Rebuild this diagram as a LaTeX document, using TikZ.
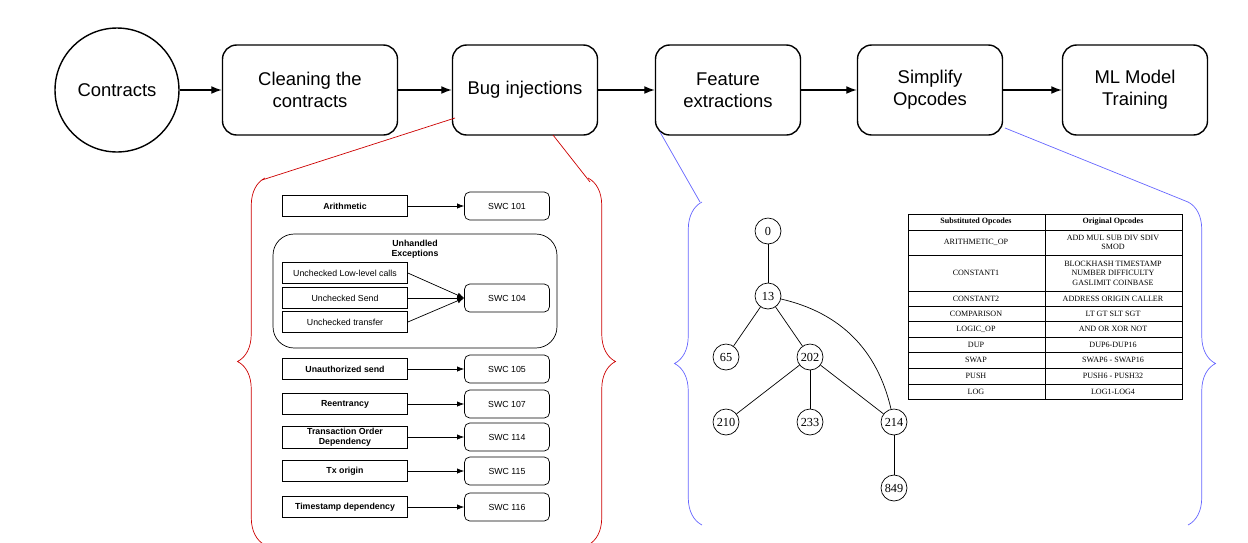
\documentclass[tikz,border=0pt]{standalone}
\usepackage{fontspec}
\setmainfont{Liberation Sans}
\newfontfamily\tabfont{Liberation Serif}
\usetikzlibrary{arrows.meta,decorations.pathreplacing}
\begin{document}
\begin{tikzpicture}[x=0.02cm,y=-0.02cm,
    stage/.style={draw,thick,rounded corners=8pt,minimum width=2.9cm,minimum height=1.8cm,align=center,font=\fontsize{10.5}{12.5}\selectfont},
    flow/.style={-{Latex[length=6pt]},thick},
    bug/.style={draw,minimum width=2.5cm,minimum height=0.42cm,inner sep=1pt,align=center,font=\fontsize{5}{6}\selectfont\bfseries},
    plain/.style={bug,font=\fontsize{5}{6}\selectfont},
    swc/.style={draw,rounded corners=3pt,minimum width=1.7cm,minimum height=0.56cm,font=\fontsize{5}{6}\selectfont},
    small/.style={-{Latex[length=4pt]}},
    tn/.style={draw,circle,minimum size=0.52cm,inner sep=0pt,font=\tabfont\fontsize{7}{8}\selectfont},
    cell/.style={font=\tabfont\fontsize{4.6}{5.4}\selectfont,align=center},
    brc/.style={decorate,decoration={brace,amplitude=0.55cm,aspect=0.5}}]
\useasboundingbox (0,0) rectangle (1248,542);
% top row
\node[draw,thick,circle,minimum size=2.48cm,font=\fontsize{10.5}{12.5}\selectfont] (contracts) at (117,90) {Contracts};
\node[stage,minimum width=3.5cm] (clean) at (310,90) {Cleaning the\\contracts};
\node[stage] (inject) at (525,90) {Bug injections};
\node[stage] (feature) at (728,90) {Feature\\extractions};
\node[stage] (simplify) at (930,90) {Simplify\\Opcodes};
\node[stage] (train) at (1135,90) {ML Model\\Training};
\draw[flow] (contracts) -- (clean);
\draw[flow] (clean) -- (inject);
\draw[flow] (inject) -- (feature);
\draw[flow] (feature) -- (simplify);
\draw[flow] (simplify) -- (train);
% zoom lines and braces
\draw[red!80!black,thin] (455,118) -- (262,180);
\draw[red!80!black,thin] (553,135) -- (590,182);
\draw[red!80!black,brc] (265,545) -- (265,178);
\draw[red!80!black,brc] (588,178) -- (588,545);
\draw[blue!60,thin] (660,132) -- (700,202);
\draw[blue!60,thin] (1005,128) -- (1188,202);
\draw[blue!60,brc] (702,525) -- (702,202);
\draw[blue!60,brc] (1188,202) -- (1188,525);
% bug classes
\node[draw,rounded corners=12pt,minimum width=5.68cm,minimum height=2.28cm] (group) at (415,291) {};
\node[font=\fontsize{5}{6}\selectfont\bfseries,align=center] (unhandled) at (415,249) {Unhandled\\Exceptions};
\node[bug] (arith) at (345,206) {Arithmetic};
\node[swc] (s101) at (507,206) {SWC 101};
\node[plain] (lowlevel) at (345,273) {Unchecked Low-level calls};
\node[plain] (send) at (345,298) {Unchecked Send};
\node[plain] (transfer) at (345,322) {Unchecked transfer};
\node[swc] (s104) at (507,298) {SWC 104};
\node[bug] (unauth) at (345,369) {Unauthorized send};
\node[swc] (s105) at (507,369) {SWC 105};
\node[bug] (reent) at (345,404) {Reentrancy};
\node[swc] (s107) at (507,404) {SWC 107};
\node[bug] (tod) at (345,437) {Transaction Order\\Dependency};
\node[swc] (s114) at (507,437) {SWC 114};
\node[bug] (txorigin) at (345,471) {Tx origin};
\node[swc] (s115) at (507,471) {SWC 115};
\node[bug] (timestamp) at (345,507) {Timestamp dependency};
\node[swc] (s116) at (507,507) {SWC 116};
\foreach \a/\b in {arith/s101,send/s104,unauth/s105,reent/s107,tod/s114,txorigin/s115,timestamp/s116}
    \draw[small] (\a) -- (\b);
\draw[small] (lowlevel.east) -- (s104.west);
\draw[small] (transfer.east) -- (s104.west);
% tree
\node[tn] (n0) at (768,231) {0};
\node[tn] (n13) at (768,296) {13};
\node[tn] (n65) at (726,357) {65};
\node[tn] (n202) at (810,357) {202};
\node[tn] (n210) at (726,422) {210};
\node[tn] (n233) at (810,422) {233};
\node[tn] (n214) at (894,422) {214};
\node[tn] (n849) at (894,488) {849};
\foreach \a/\b in {n0/n13,n13/n65,n13/n202,n202/n210,n202/n233,n202/n214,n214/n849}
    \draw (\a) -- (\b);
\draw (n13) to[bend left=32] (n214);
% opcode table
\draw (908,214) rectangle (1182,399);
\draw (1045,214) -- (1045,399);
\foreach \y in {230,255,291,306,321,337,352,368,384}
    \draw (908,\y) -- (1182,\y);
\node[cell,font=\tabfont\fontsize{4.6}{5.4}\selectfont\bfseries] (h1) at (976,222) {Substituted Opcodes};
\node[cell,font=\tabfont\fontsize{4.6}{5.4}\selectfont\bfseries] (h2) at (1113,222) {Original Opcodes};
\foreach \y/\s/\o in {242.5/ARITHMETIC\_OP/{ADD MUL SUB DIV SDIV\\SMOD},
    273/CONSTANT1/{BLOCKHASH TIMESTAMP\\NUMBER DIFFICULTY\\GASLIMIT COINBASE},
    298.5/CONSTANT2/ADDRESS ORIGIN CALLER,313.5/COMPARISON/LT GT SLT SGT,
    329/LOGIC\_OP/AND OR XOR NOT,344.5/DUP/DUP6-DUP16,360/SWAP/SWAP6 - SWAP16,
    376/PUSH/PUSH6 - PUSH32,391.5/LOG/LOG1-LOG4}{
    \node[cell] at (976,\y) {\s};
    \node[cell] at (1113,\y) {\o};
}
\end{tikzpicture}
\end{document}
